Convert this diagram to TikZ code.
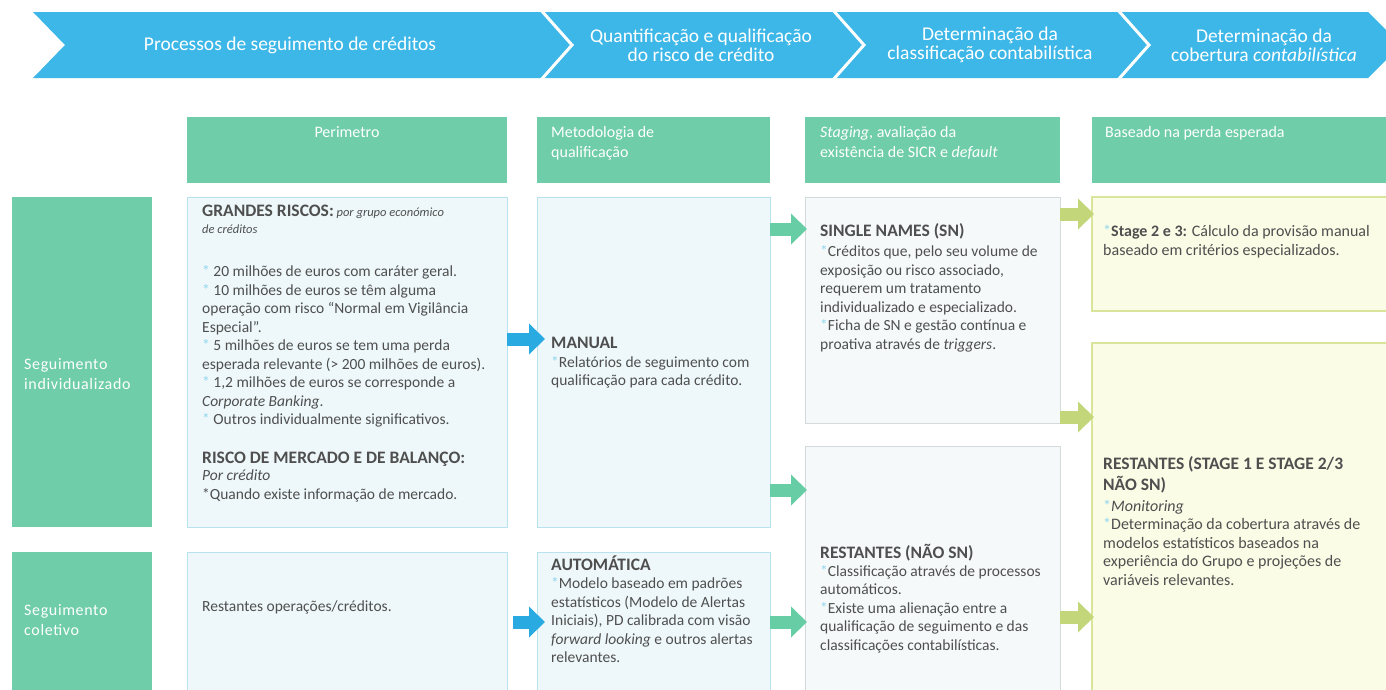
\documentclass[tikz,border=0pt]{standalone}
\usepackage{fontspec}
\setmainfont{Carlito}
\newfontfamily\lblfont{Carlito}[LetterSpace=4]
\usetikzlibrary{arrows.meta}
\definecolor{bannerc}{HTML}{3DB7E7}
\definecolor{hdrc}{HTML}{6FCDA9}
\definecolor{cyanfill}{HTML}{EEF8FA}
\definecolor{cyanline}{HTML}{B9E2EF}
\definecolor{snfill}{HTML}{F6F9FA}
\definecolor{snline}{HTML}{D3DADC}
\definecolor{yfill}{HTML}{FAFCE6}
\definecolor{yline}{HTML}{D9E59A}
\definecolor{arrblue}{HTML}{29ABE2}
\definecolor{arrgreen}{HTML}{66CDA5}
\definecolor{arryel}{HTML}{C3D77A}
\definecolor{txtc}{HTML}{4F4F4F}
\definecolor{astc}{HTML}{8FD6EE}
\newcommand{\bul}{{\color{astc}*}}
\tikzset{
  panel/.style={anchor=north west, inner sep=0pt, outer sep=0pt},
  hdrbox/.style={panel, fill=hdrc},
  cyanbox/.style={panel, fill=cyanfill, draw=cyanline, line width=1pt},
  snbox/.style={panel, fill=snfill, draw=snline, line width=1pt},
  ybox/.style={panel, fill=yfill, draw=yline, line width=1.3pt},
  bantext/.style={text=white, align=center, font=\fontsize{19.5}{19}\selectfont, inner sep=0pt},
  hdrtext/.style={text=white, anchor=base west, inner sep=0pt, font=\fontsize{16}{18}\selectfont},
  lbltext/.style={text=white, anchor=base west, inner sep=0pt, font=\lblfont\fontsize{16}{18}\selectfont},
  heading/.style={text=txtc, anchor=base west, inner sep=0pt, font=\fontsize{17.5}{20}\selectfont\bfseries},
  body/.style={text=txtc, anchor=north west, inner sep=0pt, align=left, font=\fontsize{15.5}{18.5}\selectfont},
  bodyline/.style={text=txtc, anchor=base west, inner sep=0pt, font=\fontsize{15.5}{18.5}\selectfont},
  fatarrow/.style={line width=13pt, -{Triangle[width=30pt,length=16pt]}},
}
\begin{document}
\begin{tikzpicture}[x=1pt,y=-1pt]
\useasboundingbox (0,0) rectangle (1386,689);
\clip (0,0) rectangle (1386,689);

% banner
\fill[bannerc] (33,12) -- (1368,12) -- (1401,45) -- (1368,78) -- (33,78) -- (65,45) -- cycle;
\draw[white, line width=3pt] (540,9) -- (572,45) -- (540,81);
\draw[white, line width=3pt] (832,9) -- (864,45) -- (832,81);
\draw[white, line width=3pt] (1117,9) -- (1149,45) -- (1117,81);
\node[bantext] (b1) at (290,45) {Processos de seguimento de créditos};
\node[bantext] (b2) at (701,45) {Quantificação e qualificação\\do risco de crédito};
\node[bantext] (b3) at (990,45) {Determinação da\\classificação contabilística};
\node[bantext] (b4) at (1264,45) {Determinação da\\cobertura \textit{contabilística}};

% column headers
\node[hdrbox, minimum width=320pt, minimum height=66pt] (h1) at (187,117) {};
\node[hdrbox, minimum width=233pt, minimum height=66pt] (h2) at (537,117) {};
\node[hdrbox, minimum width=255pt, minimum height=66pt] (h3) at (805,117) {};
\node[hdrbox, minimum width=300pt, minimum height=66pt] (h4) at (1092,117) {};
\node[hdrtext, anchor=base] (h1t) at (347,137) {Perimetro};
\node[hdrtext] (h2t) at (551,137) {Metodologia de};
\node[hdrtext] (h2u) at (551,157) {qualificação};
\node[hdrtext] (h3t) at (820,137) {\textit{Staging}, avaliação da};
\node[hdrtext] (h3u) at (820,157) {existência de SICR e \textit{default}};
\node[hdrtext] (h4t) at (1105,137) {Baseado na perda esperada};

% row labels
\node[hdrbox, minimum width=140pt, minimum height=330pt] (r1) at (12,197) {};
\node[hdrbox, minimum width=140pt, minimum height=140pt] (r2) at (12,552) {};
\node[lbltext] (r1t) at (24,369) {Seguimento};
\node[lbltext] (r1u) at (24,389) {individualizado};
\node[lbltext] (r2t) at (24,615) {Seguimento};
\node[lbltext] (r2u) at (24,635) {coletivo};

% content boxes
\node[cyanbox, minimum width=320pt, minimum height=330pt] (perim) at (187,197) {};
\node[cyanbox, minimum width=320pt, minimum height=140pt] (perim2) at (187,552) {};
\node[cyanbox, minimum width=233pt, minimum height=330pt] (manual) at (537,197) {};
\node[cyanbox, minimum width=233pt, minimum height=140pt] (auto) at (537,552) {};
\node[snbox, minimum width=255pt, minimum height=226pt] (sn) at (805,197) {};
\node[snbox, minimum width=255pt, minimum height=250pt] (rest) at (805,446) {};
\node[ybox, minimum width=300pt, minimum height=114pt] (st23) at (1092,197) {};
\node[ybox, minimum width=300pt, minimum height=350pt] (cov) at (1092,343) {};

% arrows
\coordinate (ya) at (0,339);
\coordinate (yb) at (0,622);
\coordinate (yc) at (0,229);
\coordinate (yd) at (0,490);
\coordinate (ye) at (0,622);
\coordinate (yf) at (0,214);
\coordinate (yg) at (0,417);
\coordinate (yh) at (0,617);
\draw[fatarrow, arrblue] (perim.east |- ya) -- ([xshift=8pt]manual.west |- ya);
\draw[fatarrow, arrblue] ([xshift=6pt]perim2.east |- yb) -- ([xshift=8pt]auto.west |- yb);
\draw[fatarrow, arrgreen] (manual.east |- yc) -- ([xshift=2pt]sn.west |- yc);
\draw[fatarrow, arrgreen] (manual.east |- yd) -- ([xshift=2pt]rest.west |- yd);
\draw[fatarrow, arrgreen] (auto.east |- ye) -- ([xshift=2pt]rest.west |- ye);
\draw[fatarrow, arryel] (sn.east |- yf) -- ([xshift=2pt]st23.west |- yf);
\draw[fatarrow, arryel] (sn.east |- yg) -- ([xshift=2pt]cov.west |- yg);
\draw[fatarrow, arryel] (rest.east |- yh) -- ([xshift=2pt]cov.west |- yh);

% perimeter text
\node[heading] (p1) at (202,216.5) {GRANDES RISCOS:{\mdseries\itshape\fontsize{12.5}{14}\selectfont\ por grupo económico}};
\node[bodyline, font=\fontsize{12.5}{14}\selectfont\itshape] (p2) at (202,233.5) {de créditos};
\node[body] (p3) at (202,263.75) {\strut\bul\ 20 milhões de euros com caráter geral.\\
\bul\ 10 milhões de euros se têm alguma\\
operação com risco “Normal em Vigilância\\
Especial”.\\
\bul\ 5 milhões de euros se tem uma perda\\
esperada relevante (> 200 milhões de euros).\\
\bul\ 1,2 milhões de euros se corresponde a\\
\textit{Corporate Banking}.\\
\bul\ Outros individualmente significativos.};
\node[heading] (p4) at (202,463.5) {RISCO DE MERCADO E DE BALANÇO:};
\node[body] (p5) at (202,467.75) {\strut\textit{Por crédito}\\*Quando existe informação de mercado.};
\node[bodyline] (p6) at (202,611.7) {Restantes operações/créditos.};

% methodology text
\node[heading] (m1) at (551,348.5) {MANUAL};
\node[body] (m2) at (551,354.25) {\strut\bul Relatórios de seguimento com\\qualificação para cada crédito.};
\node[heading] (m3) at (551,570.5) {AUTOMÁTICA};
\node[body] (m4) at (551,575.75) {\strut\bul Modelo baseado em padrões\\estatísticos (Modelo de Alertas\\Iniciais), PD calibrada com visão\\\textit{forward looking} e outros alertas\\relevantes.};

% staging text
\node[heading] (s1) at (820,236.5) {SINGLE NAMES (SN)};
\node[body] (s2) at (820,243.75) {\strut\bul Créditos que, pelo seu volume de\\exposição ou risco associado,\\requerem um tratamento\\individualizado e especializado.\\\bul Ficha de SN e gestão contínua e\\proativa através de \textit{triggers}.};
\node[heading] (s3) at (820,558.5) {RESTANTES (NÃO SN)};
\node[body] (s4) at (820,563.25) {\strut\bul Classificação através de processos\\automáticos.\\\bul Existe uma alienação entre a\\qualificação de seguimento e das\\classificações contabilísticas.};

% coverage text
\node[body, font=\fontsize{16}{18.5}\selectfont] (c1) at (1103,223.75) {\strut\bul\textbf{Stage 2 e 3:} Cálculo da provisão manual\\baseado em critérios especializados.};
\node[heading] (c2) at (1103,469.5) {RESTANTES (STAGE 1 E STAGE 2/3};
\node[heading] (c3) at (1103,490) {NÃO SN)};
\node[body, font=\fontsize{16}{18.5}\selectfont] (c4) at (1103,497.85) {\strut\bul\textit{Monitoring}\\\bul Determinação da cobertura através de\\modelos estatísticos baseados na\\experiência do Grupo e projeções de\\variáveis relevantes.};
\end{tikzpicture}
\end{document}
